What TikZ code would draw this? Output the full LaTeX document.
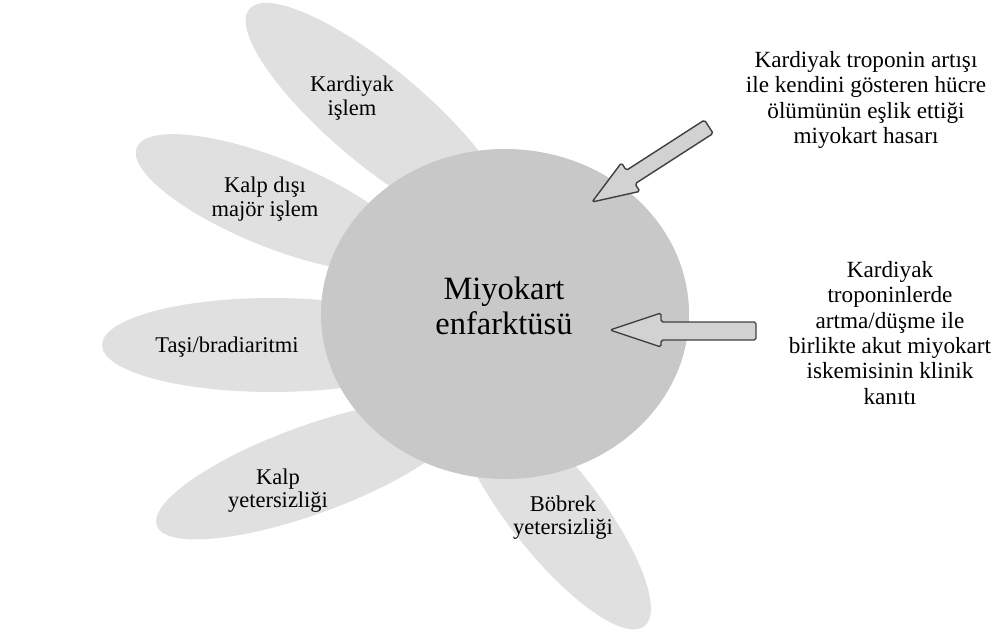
\documentclass[tikz,border=0pt]{standalone}
\usepackage{fontspec}
\setmainfont{Liberation Serif}
\definecolor{petalgray}{RGB}{224,224,224}
\definecolor{coregray}{RGB}{200,200,200}
\definecolor{arrowfill}{RGB}{210,210,210}
\definecolor{arrowline}{RGB}{64,64,64}
\tikzset{
  petal/.style={fill=petalgray, draw=none},
  core/.style={fill=coregray, draw=none},
  blockarrow/.style={fill=arrowfill, draw=arrowline, line width=0.8pt, rounded corners=1pt, line join=round},
  petallabel/.style={align=center, inner sep=0pt, font=\fontsize{12.8}{13.2}\selectfont},
  sidelabel/.style={align=center, inner sep=0pt, font=\fontsize{13.2}{14.4}\selectfont},
  corelabel/.style={align=center, inner sep=0pt, font=\fontsize{18.5}{19.8}\selectfont}
}
\begin{document}
\begin{tikzpicture}[x=0.02cm, y=-0.02cm]
        \useasboundingbox (0,0) rectangle (994,635);
        % petals behind the core
        \fill[petal, rotate around={-40:(378,117)}] (378,117) ellipse (168 and 48);
        \fill[petal, rotate around={-22:(274,203)}] (274,203) ellipse (148 and 44);
        \fill[petal] (272,345) ellipse (170 and 47);
        \fill[petal, rotate around={20:(310,470)}] (310,470) ellipse (163 and 44);
        \fill[petal, rotate around={-52:(552,508)}] (552,508) ellipse (150 and 45);
        % core
        \fill[core] (505,314) ellipse (184 and 165);
        \node[corelabel] (mi) at (504,306) {Miyokart\\enfarktüsü};
        \node[petallabel] (kardiyak) at (352,98) {Kardiyak\\işlem};
        \node[petallabel] (kalpdisi) at (265,199) {Kalp dışı\\majör işlem};
        \node[petallabel] (tasi) at (227,347) {Taşi/bradiaritmi};
        \node[petallabel] (kalpyet) at (278,491) {Kalp\\yetersizliği};
        \node[petallabel] (bobrek) at (563,518) {Böbrek\\yetersizliği};
        % block arrows and their notes
        \filldraw[blockarrow, shift={(592,202)}, rotate=32.8] (0,0) -- (46,17) -- (46,8) -- (139,8) -- (139,-8) -- (46,-8) -- (46,-17) -- cycle;
        \filldraw[blockarrow] (610,330) -- (661,313) -- (661,322) -- (756,322) -- (756,340) -- (661,340) -- (661,347) -- cycle;
        \node[sidelabel] (hasar) at (866,100) {Kardiyak troponin artışı\\ile kendini gösteren hücre\\ölümünün eşlik ettiği\\miyokart hasarı};
        \node[sidelabel] (iskemi) at (890,333) {Kardiyak\\troponinlerde\\artma/düşme ile\\birlikte akut miyokart\\iskemisinin klinik\\kanıtı};
\end{tikzpicture}
\end{document}
